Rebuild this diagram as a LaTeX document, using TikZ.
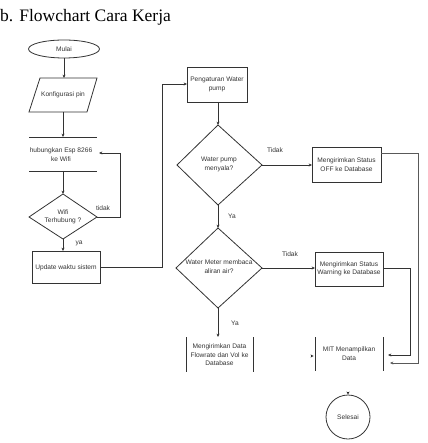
\documentclass[tikz,border=0pt]{standalone}
\usepackage{fontspec}
\setmainfont{Liberation Serif}
\newfontfamily\diagfont{Liberation Sans}
\usetikzlibrary{arrows.meta}
\begin{document}
\begin{tikzpicture}[x=1pt,y=-1pt,
  txt/.style={font=\diagfont\fontsize{6.6}{8.4}\selectfont, text=black!80, align=center, inner sep=0pt},
  ln/.style={draw=black!80, line width=0.8pt},
  arr/.style={ln, -{Stealth[length=3.4pt,width=3pt]}},
  tip/.style={fill=black!85, draw=none}
]
\useasboundingbox (0,0) rectangle (427,443);
\clip (0,0) rectangle (427,443);
% title
\node[font=\fontsize{17.5}{20}\selectfont, anchor=base west, text=black, inner sep=0pt] (title) at (0,22) {b.\hspace{6pt}Flowchart Cara Kerja};

% ---- shapes ----
\draw[ln] (64,49) ellipse [x radius=35.5, y radius=9];
\draw[ln] (40,78) -- (97,78) -- (87,112) -- (29,112) -- cycle;
\draw[ln] (29,137) -- (97,137);
\draw[ln] (29,171) -- (97,171);
\draw[ln] (63,194) -- (97,217) -- (63,239) -- (29,217) -- cycle;
\draw[ln] (32,251) rectangle (100,283);
\draw[ln] (187,67) rectangle (247,102);
\draw[ln] (218,125) -- (262,165) -- (218,205) -- (177,165) -- cycle;
\draw[ln] (218,228) -- (262,268) -- (218,308) -- (176,268) -- cycle;
\draw[ln] (186,337) -- (186,372);
\draw[ln] (253,337) -- (253,372);
\draw[ln] (312,147) rectangle (381,182);
\draw[ln] (315,252) rectangle (383,286);
\draw[ln] (315,337) -- (315,371);
\draw[ln] (383,337) -- (383,371);
\draw[ln] (348,417) circle [radius=22];

% ---- texts ----
\node[txt] (mulai) at (64,49) {Mulai};
\node[txt] (konf) at (63,95) {Konfigurasi pin};
\node[txt] (hub) at (61,154.5) {hubungkan Esp 8266\\ke Wifi};
\node[txt] (wifi) at (63,216.5) {Wifi\\Terhubung ?};
\node[txt] (upd) at (66,267.5) {Update waktu sistem};
\node[txt] (peng) at (217,84.5) {Pengaturan Water\\pump};
\node[txt] (d1) at (219,164.5) {Water pump\\menyala?};
\node[txt] (d2) at (219,266.5) {Water Meter membaca\\aliran air?};
\node[txt] (dat) at (219.5,355) {Mengirimkan Data\\Flowrate dan Vol ke\\Database};
\node[txt] (off) at (346.5,164.5) {Mengirimkan Status\\OFF ke Database};
\node[txt] (warn) at (349,269) {Mengirimkan Status\\Warning ke Database};
\node[txt] (mit) at (349,353.5) {MIT Menampilkan\\Data};
\node[txt] (sel) at (348,417) {Selesai};

\node[txt] (tidak1) at (103,208) {tidak};
\node[txt] (ya1) at (79,243) {ya};
\node[txt] (tidak2) at (275,150) {Tidak};
\node[txt] (ya2) at (232,216) {Ya};
\node[txt] (tidak3) at (290,254) {Tidak};
\node[txt] (ya3) at (235,323) {Ya};

% ---- anchor coordinates ----
\coordinate (mulaiB) at (64,58);
\coordinate (konfT) at (64,78);
\coordinate (konfB) at (63,112);
\coordinate (hubT) at (63,137);
\coordinate (hubB) at (63,171);
\coordinate (hubR) at (99,153);
\coordinate (wifiT) at (63,194);
\coordinate (wifiR) at (97,217);
\coordinate (wifiB) at (63,239);
\coordinate (updT) at (63,251);
\coordinate (updR) at (100,267);
\coordinate (pengL) at (187,84);
\coordinate (pengB) at (218,102);
\coordinate (d1T) at (218,125);
\coordinate (d1R) at (262,165);
\coordinate (d1B) at (218,205);
\coordinate (d2T) at (218,228);
\coordinate (d2R) at (262,268);
\coordinate (d2B) at (218,308);
\coordinate (datT) at (218,337);
\coordinate (offL) at (312,165);
\coordinate (offR) at (381,153);
\coordinate (warnL) at (315,268);
\coordinate (warnR) at (383,268);
\coordinate (mitA) at (388,355);
\coordinate (mitB) at (390,363);

% ---- connectors ----
\draw[arr] (mulaiB) -- (konfT);
\draw[arr] (konfB) -- (hubT);
\draw[arr] (hubB) -- (wifiT);
\draw[arr] (wifiR) -- (120,217) -- (120,153) -- (hubR);
\draw[arr] (wifiB) -- (updT);
\draw[arr] (updR) -- (162,267) -- (162,84) -- (pengL);
\draw[arr] (pengB) -- (d1T);
\draw[arr] (d1B) -- (d2T);
\draw[arr] (d2B) -- (datT);
\draw[arr] (d1R) -- (offL);
\draw[arr] (d2R) -- (warnL);
\draw[arr] (warnR) -- (410,268) -- (410,355) -- (mitA);
\draw[arr, draw=black!65] (offR) -- (418,153) -- (418,363) -- (mitB);

% stray arrow tips
\fill[tip] (313.5,356) -- (310.5,354.4) -- (311.3,356) -- (310.5,357.6) -- cycle;
\fill[tip] (348,394.5) -- (346.4,391.5) -- (348,392.3) -- (349.6,391.5) -- cycle;
\end{tikzpicture}
\end{document}
